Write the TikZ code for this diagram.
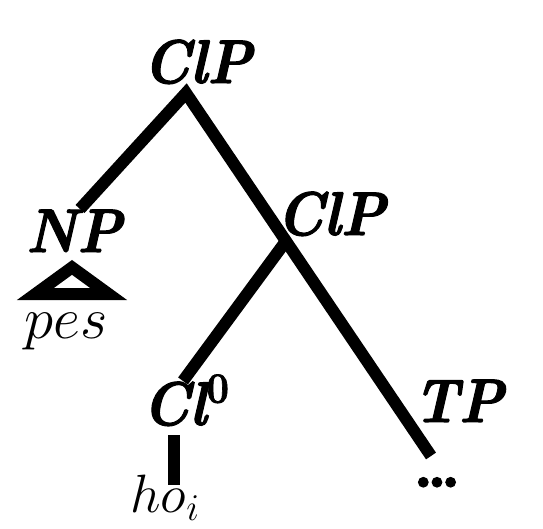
\RequirePackage{fix-cm}
\documentclass[tikz,border=0pt]{standalone}
\usepackage{fontspec}
\newfontfamily\labfont[BoldItalicFeatures={FakeBold=1.8},BoldFeatures={FakeBold=1.8}]{Latin Modern Roman}
\begin{document}
\begin{tikzpicture}[x=1pt,y=-1pt,
  branch/.style={line width=12pt, line join=miter, line cap=butt},
  lab/.style={inner sep=0pt, anchor=base, font=\fontsize{57}{66}\labfont\bfseries\itshape},
  leaf/.style={inner sep=0pt, anchor=base, font=\fontsize{59}{70}\selectfont}]
\useasboundingbox (0,0) rectangle (543,529);
\fill[white] (0,0) rectangle (543,529);
% labels
\node[lab] (top) at (197.5,83) {\scalebox{1}[1.08]{ClP}};
\node[lab] (np) at (74,252) {\scalebox{1}[1.08]{NP}};
\node[lab] (clp2) at (331,235) {\scalebox{1}[1.08]{ClP}};
\node[lab] (cl0) at (186,425) {\scalebox{1}[1.08]{Cl\textsuperscript{\upshape 0}}};
\node[lab] (tp) at (458.5,422) {\scalebox{1}[1.08]{TP}};
\node[lab, font=\fontsize{66}{70}\labfont\bfseries\upshape] (dots) at (437,487) {.\kern-7pt.\kern-7pt.};
\node[leaf] (pes) at (66,338) {$pes$};
\node[leaf, font=\fontsize{54}{64}\selectfont] (hoi) at (165,512) {$ho_{i}$};
% branch points
\coordinate (topv) at (186,93);
\coordinate (npend) at (80,209);
\coordinate (mainend) at (431,456);
\coordinate (brv) at (286,241);
\coordinate (brend) at (183,381);
\coordinate (bartop) at (173.5,435);
\coordinate (barbot) at (173.5,485);
\coordinate (triapex) at (72,267.4);
\coordinate (trileft) at (35.4,294);
\coordinate (triright) at (108.6,294);
\draw[branch] (npend) -- (topv) -- (mainend);
\draw[branch] (brv) -- (brend);
\draw[branch] (bartop) -- (barbot);
\draw[branch] (triapex) -- (trileft) -- (triright) -- cycle;
\end{tikzpicture}
\end{document}
